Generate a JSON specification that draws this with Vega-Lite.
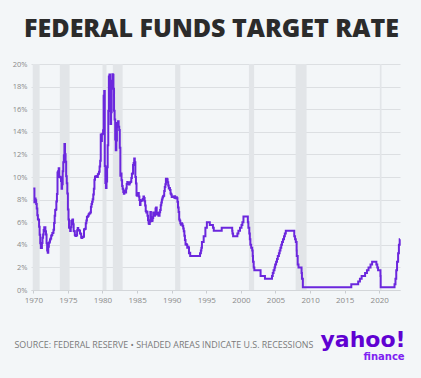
{
  "$schema": "https://vega.github.io/schema/vega-lite/v6.json",
  "width": 369,
  "height": 226,
  "autosize": "none",
  "padding": {"left": 31, "top": 64, "right": 21, "bottom": 88},
  "background": "#f3f6f8",
  "config": {"view": {"stroke": null}, "font": "Open Sans"},
  "title": {
    "text": "FEDERAL FUNDS TARGET RATE",
    "font": "Open Sans",
    "fontWeight": 800,
    "fontSize": 25,
    "color": "#2b2b2b",
    "anchor": "middle",
    "frame": "group",
    "baseline": "alphabetic",
    "offset": -2,
    "dx": -4
  },
  "datasets": {
    "recessions": [
      {"start": "1969-12-01", "end": "1970-11-30"},
      {"start": "1973-11-01", "end": "1975-03-31"},
      {"start": "1980-01-01", "end": "1980-07-31"},
      {"start": "1981-07-01", "end": "1982-11-30"},
      {"start": "1990-07-01", "end": "1991-03-31"},
      {"start": "2001-03-01", "end": "2001-11-30"},
      {"start": "2007-12-01", "end": "2009-06-30"},
      {"start": "2020-02-01", "end": "2020-04-30"}
    ],
    "rates": [
      {"date": "1970-01-01", "rate": 8.98}, {"date": "1970-02-01", "rate": 8.98}, {"date": "1970-03-01", "rate": 7.76}, {"date": "1970-04-01", "rate": 8.10}, {"date": "1970-05-01", "rate": 7.95}, {"date": "1970-06-01", "rate": 7.61}, {"date": "1970-07-01", "rate": 7.21}, {"date": "1970-08-01", "rate": 6.61}, {"date": "1970-09-01", "rate": 6.29}, {"date": "1970-10-01", "rate": 6.20}, {"date": "1970-11-01", "rate": 5.60}, {"date": "1970-12-01", "rate": 4.90},
      {"date": "1971-01-01", "rate": 4.14}, {"date": "1971-02-01", "rate": 3.72}, {"date": "1971-03-01", "rate": 3.71}, {"date": "1971-04-01", "rate": 4.15}, {"date": "1971-05-01", "rate": 4.63}, {"date": "1971-06-01", "rate": 4.91}, {"date": "1971-07-01", "rate": 5.31}, {"date": "1971-08-01", "rate": 5.56}, {"date": "1971-09-01", "rate": 5.55}, {"date": "1971-10-01", "rate": 5.20}, {"date": "1971-11-01", "rate": 4.91}, {"date": "1971-12-01", "rate": 4.14},
      {"date": "1972-01-01", "rate": 3.50}, {"date": "1972-02-01", "rate": 3.29}, {"date": "1972-03-01", "rate": 3.83}, {"date": "1972-04-01", "rate": 4.17}, {"date": "1972-05-01", "rate": 4.27}, {"date": "1972-06-01", "rate": 4.46}, {"date": "1972-07-01", "rate": 4.55}, {"date": "1972-08-01", "rate": 4.80}, {"date": "1972-09-01", "rate": 4.87}, {"date": "1972-10-01", "rate": 5.04}, {"date": "1972-11-01", "rate": 5.06}, {"date": "1972-12-01", "rate": 5.33},
      {"date": "1973-01-01", "rate": 5.94}, {"date": "1973-02-01", "rate": 6.58}, {"date": "1973-03-01", "rate": 7.09}, {"date": "1973-04-01", "rate": 7.12}, {"date": "1973-05-01", "rate": 7.84}, {"date": "1973-06-01", "rate": 8.49}, {"date": "1973-07-01", "rate": 10.40}, {"date": "1973-08-01", "rate": 10.50}, {"date": "1973-09-01", "rate": 10.78}, {"date": "1973-10-01", "rate": 10.01}, {"date": "1973-11-01", "rate": 10.03}, {"date": "1973-12-01", "rate": 9.95},
      {"date": "1974-01-01", "rate": 9.65}, {"date": "1974-02-01", "rate": 8.97}, {"date": "1974-03-01", "rate": 9.35}, {"date": "1974-04-01", "rate": 10.51}, {"date": "1974-05-01", "rate": 11.31}, {"date": "1974-06-01", "rate": 11.93}, {"date": "1974-07-01", "rate": 12.92}, {"date": "1974-08-01", "rate": 12.01}, {"date": "1974-09-01", "rate": 11.34}, {"date": "1974-10-01", "rate": 10.06}, {"date": "1974-11-01", "rate": 9.45}, {"date": "1974-12-01", "rate": 8.53},
      {"date": "1975-01-01", "rate": 7.13}, {"date": "1975-02-01", "rate": 6.24}, {"date": "1975-03-01", "rate": 5.54}, {"date": "1975-04-01", "rate": 5.49}, {"date": "1975-05-01", "rate": 5.22}, {"date": "1975-06-01", "rate": 5.55}, {"date": "1975-07-01", "rate": 6.10}, {"date": "1975-08-01", "rate": 6.14}, {"date": "1975-09-01", "rate": 6.24}, {"date": "1975-10-01", "rate": 5.82}, {"date": "1975-11-01", "rate": 5.22}, {"date": "1975-12-01", "rate": 5.20},
      {"date": "1976-01-01", "rate": 4.87}, {"date": "1976-02-01", "rate": 4.77}, {"date": "1976-03-01", "rate": 4.84}, {"date": "1976-04-01", "rate": 4.82}, {"date": "1976-05-01", "rate": 5.29}, {"date": "1976-06-01", "rate": 5.48}, {"date": "1976-07-01", "rate": 5.31}, {"date": "1976-08-01", "rate": 5.29}, {"date": "1976-09-01", "rate": 5.25}, {"date": "1976-10-01", "rate": 5.02}, {"date": "1976-11-01", "rate": 4.95}, {"date": "1976-12-01", "rate": 4.65},
      {"date": "1977-01-01", "rate": 4.61}, {"date": "1977-02-01", "rate": 4.68}, {"date": "1977-03-01", "rate": 4.69}, {"date": "1977-04-01", "rate": 4.73}, {"date": "1977-05-01", "rate": 5.35}, {"date": "1977-06-01", "rate": 5.39}, {"date": "1977-07-01", "rate": 5.42}, {"date": "1977-08-01", "rate": 5.90}, {"date": "1977-09-01", "rate": 6.14}, {"date": "1977-10-01", "rate": 6.47}, {"date": "1977-11-01", "rate": 6.51}, {"date": "1977-12-01", "rate": 6.56},
      {"date": "1978-01-01", "rate": 6.70}, {"date": "1978-02-01", "rate": 6.78}, {"date": "1978-03-01", "rate": 6.79}, {"date": "1978-04-01", "rate": 6.89}, {"date": "1978-05-01", "rate": 7.36}, {"date": "1978-06-01", "rate": 7.60}, {"date": "1978-07-01", "rate": 7.81}, {"date": "1978-08-01", "rate": 8.04}, {"date": "1978-09-01", "rate": 8.45}, {"date": "1978-10-01", "rate": 8.96}, {"date": "1978-11-01", "rate": 9.76}, {"date": "1978-12-01", "rate": 10.03},
      {"date": "1979-01-01", "rate": 10.07}, {"date": "1979-02-01", "rate": 10.06}, {"date": "1979-03-01", "rate": 10.09}, {"date": "1979-04-01", "rate": 10.01}, {"date": "1979-05-01", "rate": 10.24}, {"date": "1979-06-01", "rate": 10.29}, {"date": "1979-07-01", "rate": 10.47}, {"date": "1979-08-01", "rate": 10.94}, {"date": "1979-09-01", "rate": 11.43}, {"date": "1979-10-01", "rate": 13.77}, {"date": "1979-11-01", "rate": 13.18}, {"date": "1979-12-01", "rate": 13.78},
      {"date": "1980-01-01", "rate": 13.82}, {"date": "1980-02-01", "rate": 14.13}, {"date": "1980-03-01", "rate": 17.19}, {"date": "1980-04-01", "rate": 17.61}, {"date": "1980-05-01", "rate": 10.98}, {"date": "1980-06-01", "rate": 9.47}, {"date": "1980-07-01", "rate": 9.03}, {"date": "1980-08-01", "rate": 9.61}, {"date": "1980-09-01", "rate": 10.87}, {"date": "1980-10-01", "rate": 12.81}, {"date": "1980-11-01", "rate": 15.85}, {"date": "1980-12-01", "rate": 18.90},
      {"date": "1981-01-01", "rate": 19.08}, {"date": "1981-02-01", "rate": 15.93}, {"date": "1981-03-01", "rate": 14.70}, {"date": "1981-04-01", "rate": 15.72}, {"date": "1981-05-01", "rate": 18.52}, {"date": "1981-06-01", "rate": 19.10}, {"date": "1981-07-01", "rate": 19.04}, {"date": "1981-08-01", "rate": 17.82}, {"date": "1981-09-01", "rate": 15.87}, {"date": "1981-10-01", "rate": 15.08}, {"date": "1981-11-01", "rate": 13.31}, {"date": "1981-12-01", "rate": 12.37},
      {"date": "1982-01-01", "rate": 13.22}, {"date": "1982-02-01", "rate": 14.78}, {"date": "1982-03-01", "rate": 14.68}, {"date": "1982-04-01", "rate": 14.94}, {"date": "1982-05-01", "rate": 14.45}, {"date": "1982-06-01", "rate": 14.15}, {"date": "1982-07-01", "rate": 12.59}, {"date": "1982-08-01", "rate": 10.12}, {"date": "1982-09-01", "rate": 10.31}, {"date": "1982-10-01", "rate": 9.71}, {"date": "1982-11-01", "rate": 9.20}, {"date": "1982-12-01", "rate": 8.95},
      {"date": "1983-01-01", "rate": 8.68}, {"date": "1983-02-01", "rate": 8.51}, {"date": "1983-03-01", "rate": 8.77}, {"date": "1983-04-01", "rate": 8.80}, {"date": "1983-05-01", "rate": 8.63}, {"date": "1983-06-01", "rate": 8.98}, {"date": "1983-07-01", "rate": 9.37}, {"date": "1983-08-01", "rate": 9.56}, {"date": "1983-09-01", "rate": 9.45}, {"date": "1983-10-01", "rate": 9.48}, {"date": "1983-11-01", "rate": 9.34}, {"date": "1983-12-01", "rate": 9.47},
      {"date": "1984-01-01", "rate": 9.56}, {"date": "1984-02-01", "rate": 9.59}, {"date": "1984-03-01", "rate": 9.91}, {"date": "1984-04-01", "rate": 10.29}, {"date": "1984-05-01", "rate": 10.32}, {"date": "1984-06-01", "rate": 11.06}, {"date": "1984-07-01", "rate": 11.23}, {"date": "1984-08-01", "rate": 11.64}, {"date": "1984-09-01", "rate": 11.30}, {"date": "1984-10-01", "rate": 9.99}, {"date": "1984-11-01", "rate": 9.43}, {"date": "1984-12-01", "rate": 8.38},
      {"date": "1985-01-01", "rate": 8.35}, {"date": "1985-02-01", "rate": 8.50}, {"date": "1985-03-01", "rate": 8.58}, {"date": "1985-04-01", "rate": 8.27}, {"date": "1985-05-01", "rate": 7.97}, {"date": "1985-06-01", "rate": 7.53}, {"date": "1985-07-01", "rate": 7.88}, {"date": "1985-08-01", "rate": 7.90}, {"date": "1985-09-01", "rate": 7.92}, {"date": "1985-10-01", "rate": 7.99}, {"date": "1985-11-01", "rate": 8.05}, {"date": "1985-12-01", "rate": 8.27},
      {"date": "1986-01-01", "rate": 8.14}, {"date": "1986-02-01", "rate": 7.86}, {"date": "1986-03-01", "rate": 7.48}, {"date": "1986-04-01", "rate": 6.99}, {"date": "1986-05-01", "rate": 6.85}, {"date": "1986-06-01", "rate": 6.92}, {"date": "1986-07-01", "rate": 6.56}, {"date": "1986-08-01", "rate": 6.17}, {"date": "1986-09-01", "rate": 5.89}, {"date": "1986-10-01", "rate": 5.85}, {"date": "1986-11-01", "rate": 6.04}, {"date": "1986-12-01", "rate": 6.91},
      {"date": "1987-01-01", "rate": 6.43}, {"date": "1987-02-01", "rate": 6.10}, {"date": "1987-03-01", "rate": 6.13}, {"date": "1987-04-01", "rate": 6.37}, {"date": "1987-05-01", "rate": 6.85}, {"date": "1987-06-01", "rate": 6.73}, {"date": "1987-07-01", "rate": 6.58}, {"date": "1987-08-01", "rate": 6.73}, {"date": "1987-09-01", "rate": 7.22}, {"date": "1987-10-01", "rate": 7.29}, {"date": "1987-11-01", "rate": 6.69}, {"date": "1987-12-01", "rate": 6.77},
      {"date": "1988-01-01", "rate": 6.83}, {"date": "1988-02-01", "rate": 6.58}, {"date": "1988-03-01", "rate": 6.58}, {"date": "1988-04-01", "rate": 6.87}, {"date": "1988-05-01", "rate": 7.09}, {"date": "1988-06-01", "rate": 7.51}, {"date": "1988-07-01", "rate": 7.75}, {"date": "1988-08-01", "rate": 8.01}, {"date": "1988-09-01", "rate": 8.19}, {"date": "1988-10-01", "rate": 8.30}, {"date": "1988-11-01", "rate": 8.35}, {"date": "1988-12-01", "rate": 8.76},
      {"date": "1989-01-01", "rate": 9.12}, {"date": "1989-02-01", "rate": 9.36}, {"date": "1989-03-01", "rate": 9.85}, {"date": "1989-04-01", "rate": 9.84}, {"date": "1989-05-01", "rate": 9.81}, {"date": "1989-06-01", "rate": 9.53}, {"date": "1989-07-01", "rate": 9.24}, {"date": "1989-08-01", "rate": 8.99}, {"date": "1989-09-01", "rate": 9.02}, {"date": "1989-10-01", "rate": 8.84}, {"date": "1989-11-01", "rate": 8.55}, {"date": "1989-12-01", "rate": 8.45},
      {"date": "1990-01-01", "rate": 8.23}, {"date": "1990-02-01", "rate": 8.24}, {"date": "1990-03-01", "rate": 8.28}, {"date": "1990-04-01", "rate": 8.26}, {"date": "1990-05-01", "rate": 8.18}, {"date": "1990-06-01", "rate": 8.29}, {"date": "1990-07-01", "rate": 8.15}, {"date": "1990-08-01", "rate": 8.13}, {"date": "1990-09-01", "rate": 8.20}, {"date": "1990-10-01", "rate": 8.11}, {"date": "1990-11-01", "rate": 7.81}, {"date": "1990-12-01", "rate": 7.31},
      {"date": "1991-01-01", "rate": 6.91}, {"date": "1991-02-01", "rate": 6.25}, {"date": "1991-03-01", "rate": 6.12}, {"date": "1991-04-01", "rate": 5.91}, {"date": "1991-05-01", "rate": 5.78}, {"date": "1991-06-01", "rate": 5.90}, {"date": "1991-07-01", "rate": 5.82}, {"date": "1991-08-01", "rate": 5.66}, {"date": "1991-09-01", "rate": 5.45}, {"date": "1991-10-01", "rate": 5.21}, {"date": "1991-11-01", "rate": 4.81}, {"date": "1991-12-01", "rate": 4.43},
      {"date": "1992-01-01", "rate": 4.03}, {"date": "1992-02-01", "rate": 4.06}, {"date": "1992-03-01", "rate": 3.98}, {"date": "1992-04-01", "rate": 3.73}, {"date": "1992-05-01", "rate": 3.82}, {"date": "1992-06-01", "rate": 3.76}, {"date": "1992-07-01", "rate": 3.25}, {"date": "1992-08-01", "rate": 3.30},
      {"date": "1992-09-04", "rate": 3.0},
      {"date": "1994-02-04", "rate": 3.25}, {"date": "1994-03-22", "rate": 3.5}, {"date": "1994-04-18", "rate": 3.75}, {"date": "1994-05-17", "rate": 4.25}, {"date": "1994-08-16", "rate": 4.75}, {"date": "1994-11-15", "rate": 5.5},
      {"date": "1995-02-01", "rate": 6.0}, {"date": "1995-07-06", "rate": 5.75}, {"date": "1995-12-19", "rate": 5.5}, {"date": "1996-01-31", "rate": 5.25}, {"date": "1997-03-25", "rate": 5.5},
      {"date": "1998-09-29", "rate": 5.25}, {"date": "1998-10-15", "rate": 5.0}, {"date": "1998-11-17", "rate": 4.75},
      {"date": "1999-06-30", "rate": 5.0}, {"date": "1999-08-24", "rate": 5.25}, {"date": "1999-11-16", "rate": 5.5},
      {"date": "2000-02-02", "rate": 5.75}, {"date": "2000-03-21", "rate": 6.0}, {"date": "2000-05-16", "rate": 6.5},
      {"date": "2001-01-03", "rate": 6.0}, {"date": "2001-01-31", "rate": 5.5}, {"date": "2001-03-20", "rate": 5.0}, {"date": "2001-04-18", "rate": 4.5}, {"date": "2001-05-15", "rate": 4.0}, {"date": "2001-06-27", "rate": 3.75}, {"date": "2001-08-21", "rate": 3.5}, {"date": "2001-09-17", "rate": 3.0}, {"date": "2001-10-02", "rate": 2.5}, {"date": "2001-11-06", "rate": 2.0}, {"date": "2001-12-11", "rate": 1.75},
      {"date": "2002-11-06", "rate": 1.25}, {"date": "2003-06-25", "rate": 1.0},
      {"date": "2004-06-30", "rate": 1.25}, {"date": "2004-08-10", "rate": 1.5}, {"date": "2004-09-21", "rate": 1.75}, {"date": "2004-11-10", "rate": 2.0}, {"date": "2004-12-14", "rate": 2.25},
      {"date": "2005-02-02", "rate": 2.5}, {"date": "2005-03-22", "rate": 2.75}, {"date": "2005-05-03", "rate": 3.0}, {"date": "2005-06-30", "rate": 3.25}, {"date": "2005-08-09", "rate": 3.5}, {"date": "2005-09-20", "rate": 3.75}, {"date": "2005-11-01", "rate": 4.0}, {"date": "2005-12-13", "rate": 4.25},
      {"date": "2006-01-31", "rate": 4.5}, {"date": "2006-03-28", "rate": 4.75}, {"date": "2006-05-10", "rate": 5.0}, {"date": "2006-06-29", "rate": 5.25},
      {"date": "2007-09-18", "rate": 4.75}, {"date": "2007-10-31", "rate": 4.5}, {"date": "2007-12-11", "rate": 4.25},
      {"date": "2008-01-22", "rate": 3.5}, {"date": "2008-01-30", "rate": 3.0}, {"date": "2008-03-18", "rate": 2.25}, {"date": "2008-04-30", "rate": 2.0}, {"date": "2008-10-08", "rate": 1.5}, {"date": "2008-10-29", "rate": 1.0}, {"date": "2008-12-16", "rate": 0.25},
      {"date": "2015-12-17", "rate": 0.5}, {"date": "2016-12-15", "rate": 0.75}, {"date": "2017-03-16", "rate": 1.0}, {"date": "2017-06-15", "rate": 1.25}, {"date": "2017-12-14", "rate": 1.5},
      {"date": "2018-03-22", "rate": 1.75}, {"date": "2018-06-14", "rate": 2.0}, {"date": "2018-09-27", "rate": 2.25}, {"date": "2018-12-20", "rate": 2.5},
      {"date": "2019-08-01", "rate": 2.25}, {"date": "2019-09-19", "rate": 2.0}, {"date": "2019-10-31", "rate": 1.75},
      {"date": "2020-03-04", "rate": 1.25}, {"date": "2020-03-16", "rate": 0.25},
      {"date": "2022-03-17", "rate": 0.5}, {"date": "2022-05-05", "rate": 1.0}, {"date": "2022-06-16", "rate": 1.75}, {"date": "2022-07-28", "rate": 2.5}, {"date": "2022-09-22", "rate": 3.25}, {"date": "2022-11-03", "rate": 4.0}, {"date": "2022-12-15", "rate": 4.5}, {"date": "2022-12-31", "rate": 4.5}
    ]
  },
  "layer": [
    {
      "data": {"name": "recessions"},
      "mark": {"type": "rect", "color": "#e2e5e8"},
      "encoding": {
        "x": {
          "field": "start",
          "type": "temporal",
          "scale": {"domain": [{"year": 1969, "month": 9, "date": 1}, {"year": 2022, "month": 12, "date": 31}]},
          "axis": {
            "orient": "bottom",
            "format": "%Y",
            "tickCount": {"interval": "year", "step": 5},
            "grid": false,
            "domain": true,
            "domainColor": "#d3d6d9",
            "ticks": true,
            "tickColor": "#c9ccd0",
            "tickSize": 3,
            "labelPadding": 3,
            "labelFont": "Open Sans",
            "labelFontSize": 8,
            "labelColor": "#8a8a8a",
            "labelFlush": false,
            "title": "SOURCE: FEDERAL RESERVE • SHADED AREAS INDICATE U.S. RECESSIONS",
            "titleFont": "Open Sans",
            "titleFontWeight": "normal",
            "titleFontSize": 8.9,
            "titleColor": "#7a7a7a",
            "titleAnchor": "start",
            "titleAlign": "left",
            "titleBaseline": "alphabetic",
            "titleX": -17,
            "titleY": 57
          }
        },
        "x2": {"field": "end"}
      }
    },
    {
      "data": {"name": "rates"},
      "mark": {"type": "line", "interpolate": "step-after", "color": "#6b27dd", "strokeWidth": 2},
      "encoding": {
        "x": {
          "field": "date",
          "type": "temporal",
          "scale": {"domain": [{"year": 1969, "month": 9, "date": 1}, {"year": 2022, "month": 12, "date": 31}]},
          "axis": {
            "orient": "bottom",
            "labels": false,
            "ticks": false,
            "domain": false,
            "grid": false,
            "title": "yahoo!",
            "titleFont": "DejaVu Sans",
            "titleFontWeight": "bold",
            "titleFontSize": 22,
            "titleColor": "#6001d2",
            "titleAnchor": "start",
            "titleAlign": "left",
            "titleBaseline": "alphabetic",
            "titleX": 289,
            "titleY": 56
          }
        },
        "y": {
          "field": "rate",
          "type": "quantitative",
          "scale": {"domain": [0, 20]},
          "axis": {
            "values": [0, 2, 4, 6, 8, 10, 12, 14, 16, 18, 20],
            "labelExpr": "datum.value + '%'",
            "grid": true,
            "gridColor": "#dcdfe2",
            "domain": false,
            "ticks": false,
            "labelPadding": 4,
            "labelFont": "Open Sans",
            "labelFontSize": 7.5,
            "labelColor": "#8a8a8a",
            "title": "finance",
            "titleFont": "DejaVu Sans",
            "titleFontWeight": "bold",
            "titleFontSize": 10,
            "titleColor": "#7e22f2",
            "titleAngle": 0,
            "titleAnchor": "start",
            "titleAlign": "left",
            "titleBaseline": "alphabetic",
            "titleX": 332,
            "titleY": 295
          }
        }
      }
    }
  ],
  "resolve": {"axis": {"x": "independent"}}
}
